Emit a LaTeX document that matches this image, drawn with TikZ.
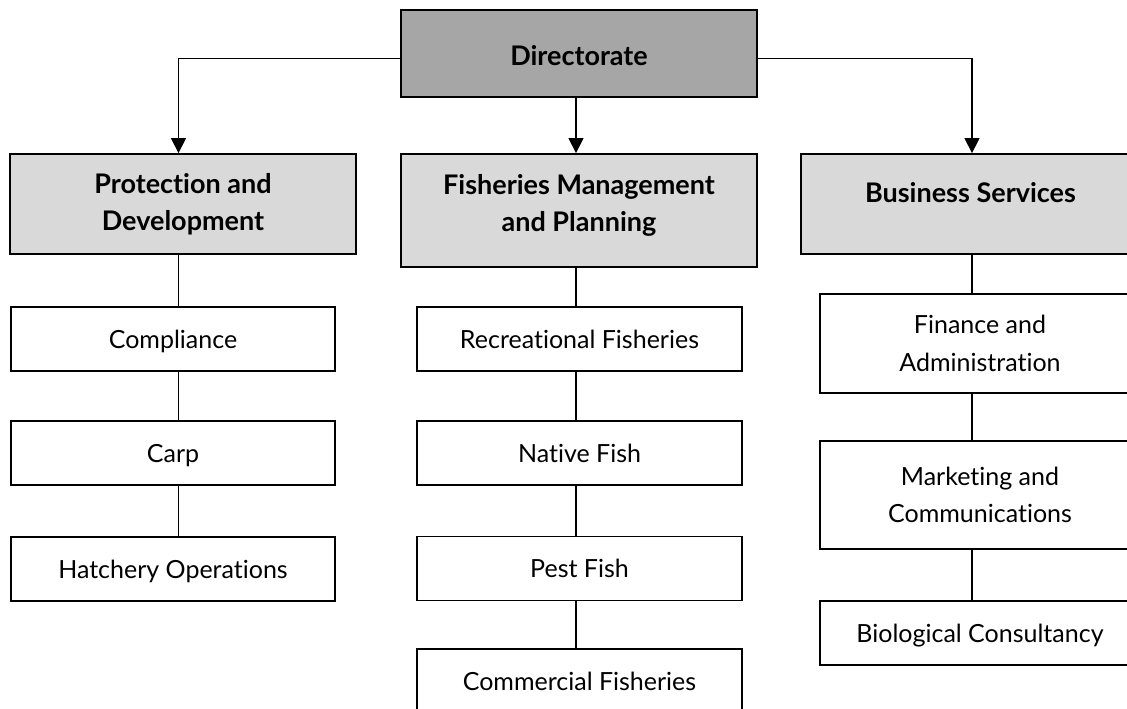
\documentclass[tikz,border=0pt]{standalone}
\usepackage{fontspec}
\setmainfont{Lato}[Ligatures={NoCommon,NoRare}]
\usetikzlibrary{arrows.meta}
\definecolor{dirfill}{HTML}{A6A6A6}
\definecolor{divfill}{HTML}{D9D9D9}
\begin{document}
\begin{tikzpicture}[x=1pt,y=-1pt,
  boxbase/.style={draw=black, line width=1.8pt, inner sep=0pt, align=center},
  boldfont/.style={font=\fontsize{27}{37.5}\selectfont\bfseries},
  regfont/.style={font=\fontsize{25}{37.5}\selectfont},
  dirbox/.style={boxbase, fill=dirfill, boldfont, text height=25pt, text depth=0pt},
  divbox/.style={boxbase, fill=divfill, boldfont},
  unitbox/.style={boxbase, fill=white, regfont},
  oneline/.style={text height=18pt, text depth=0pt},
  conn/.style={draw=black, line width=1.3pt},
  arr/.style={conn, -{Triangle[width=15pt,length=15pt]}}
]
\useasboundingbox (0,0) rectangle (1127,709);
% column x positions and header line level
\coordinate (cL) at (178.5,0);
\coordinate (cM) at (576,0);
\coordinate (cR) at (972,0);
\coordinate (hy) at (0,58.5);

% top
\node[dirbox, minimum width=356pt, minimum height=87pt] (dir) at (579,53.5) {Directorate};

% divisions
\node[divbox, minimum width=346pt, minimum height=100pt] (pd) at (183,204) {Protection and\\Development};
\node[divbox, minimum width=356pt, minimum height=113pt,
      label={[boldfont, align=center, yshift=5pt]center:Fisheries Management\\and Planning}] (fmp) at (579,210.5) {};
\node[divbox, text height=19.4pt, text depth=22pt, minimum width=339pt, minimum height=100pt] (bs) at (970.5,204) {Business Services};

% left column
\node[unitbox, oneline, minimum width=324pt, minimum height=64pt] (comp) at (173,339) {Compliance};
\node[unitbox, oneline, minimum width=324pt, minimum height=64pt] (carp) at (173,453) {Carp};
\node[unitbox, oneline, minimum width=324pt, minimum height=64pt] (hatch) at (173,569) {Hatchery Operations};

% middle column
\node[unitbox, oneline, minimum width=325pt, minimum height=64pt] (rec) at (579.5,339) {Recreational Fisheries};
\node[unitbox, oneline, minimum width=325pt, minimum height=64pt] (nat) at (579.5,453) {Native Fish};
\node[unitbox, oneline, minimum width=325pt, minimum height=64pt] (pest) at (579.5,568.5) {Pest Fish};
\node[unitbox, oneline, minimum width=325pt, minimum height=64pt] (com) at (579.5,681) {Commercial Fisheries};

% right column
\node[unitbox, minimum width=320pt, minimum height=99pt] (fin) at (980,343.5) {Finance and\\Administration};
\node[unitbox, minimum width=320pt, minimum height=108pt] (mkt) at (980,495) {Marketing and\\Communications};
\node[unitbox, oneline, minimum width=320pt, minimum height=64pt] (bio) at (980,633) {Biological Consultancy};

% arrows from directorate
\draw[arr] (dir.west |- hy) -| (pd.north -| cL);
\draw[arr] (dir.south -| cM) -- (fmp.north -| cM);
\draw[arr] (dir.east |- hy) -| (bs.north -| cR);

% column connectors
\draw[conn] (pd.south -| cL) -- (comp.north -| cL);
\draw[conn] (comp.south -| cL) -- (carp.north -| cL);
\draw[conn] (carp.south -| cL) -- (hatch.north -| cL);

\draw[conn] (fmp.south -| cM) -- (rec.north -| cM);
\draw[conn] (rec.south -| cM) -- (nat.north -| cM);
\draw[conn] (nat.south -| cM) -- (pest.north -| cM);
\draw[conn] (pest.south -| cM) -- (com.north -| cM);

\draw[conn] (bs.south -| cR) -- (fin.north -| cR);
\draw[conn] (fin.south -| cR) -- (mkt.north -| cR);
\draw[conn] (mkt.south -| cR) -- (bio.north -| cR);
\end{tikzpicture}
\end{document}
